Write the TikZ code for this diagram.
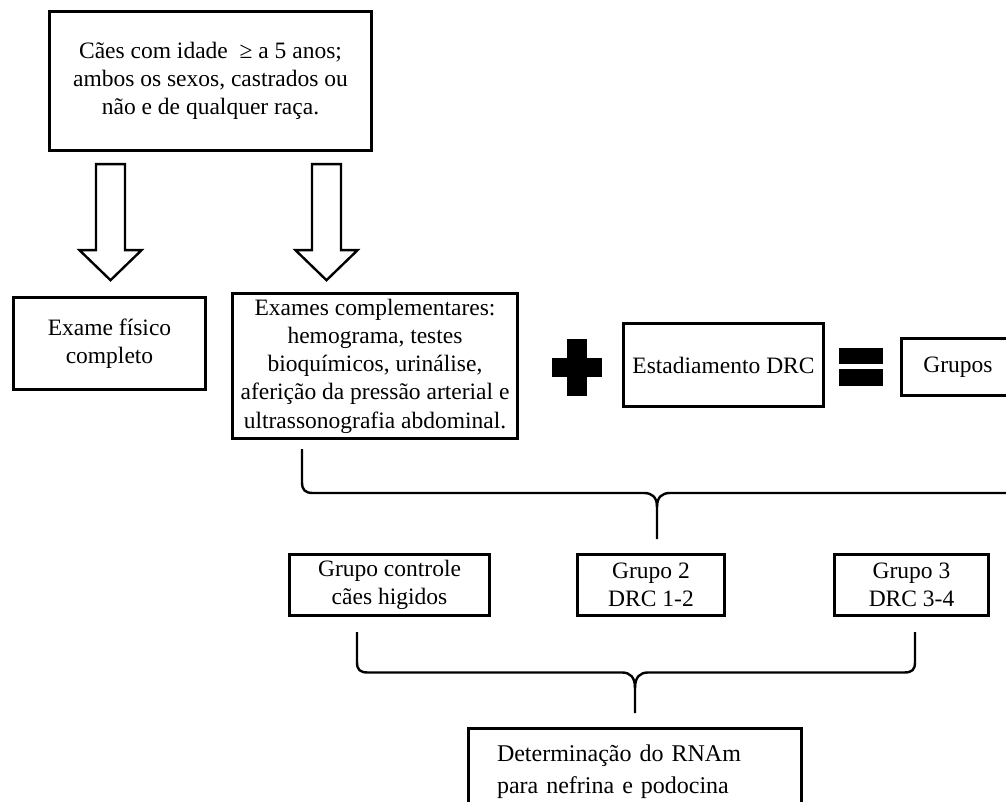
\documentclass[tikz,border=0pt]{standalone}
\usepackage{fontspec}
\setmainfont{Liberation Serif}
\begin{document}
\begin{tikzpicture}[x=1pt,y=-1pt,
  box/.style={draw, line width=2.6pt, align=center, inner sep=0pt,
    font=\fontsize{23.5}{28.5}\selectfont},
  brace/.style={line width=2.4pt, line cap=butt, line join=round},
  blockarrow/.pic={\draw[line width=2.4pt, line join=miter]
    (-14.5,0) -- (14.5,0) -- (14.5,86) -- (31,86) -- (0,116) -- (-31,86) -- (-14.5,86) -- cycle;}
]
\useasboundingbox (0,0) rectangle (1006,802);
\clip (0,0) rectangle (1006,802);

% boxes
\node[box, minimum width=322.4pt, minimum height=139.4pt, font=\fontsize{23.5}{28}\selectfont] (top) at (210.5,81)
  {Cães com idade\ \ ≥ a 5 anos;\\ambos os sexos, castrados ou\\não e de qualquer raça.};
\node[box, minimum width=192.4pt, minimum height=92.4pt] (fisico) at (109.5,343.5)
  {Exame físico\\completo};
\node[box, minimum width=285.4pt, minimum height=145.4pt, font=\fontsize{23.5}{28.3}\selectfont] (compl) at (375,366)
  {Exames complementares:\\hemograma, testes\\bioquímicos, urinálise,\\aferição da pressão arterial e\\ultrassonografia abdominal.};
\node[box, minimum width=200.4pt, minimum height=83.4pt] (estad) at (723.5,365)
  {Estadiamento DRC};
\node[box, minimum width=113.4pt, minimum height=57.4pt] (grupos) at (958,367)
  {Grupos};
\node[box, minimum width=200.4pt, minimum height=61.4pt, font=\fontsize{23.5}{28}\selectfont] (g1) at (389.5,585)
  {Grupo controle\\cães higidos};
\node[box, minimum width=147.4pt, minimum height=61.4pt, font=\fontsize{23.5}{28}\selectfont] (g2) at (651,585)
  {Grupo 2\\DRC 1-2};
\node[box, minimum width=154.4pt, minimum height=61.4pt, font=\fontsize{23.5}{28}\selectfont] (g3) at (911.5,585)
  {Grupo 3\\DRC 3-4};
\node[draw, line width=2.6pt, anchor=north, minimum width=333.4pt, minimum height=85.4pt,
  inner xsep=28.7pt, inner ysep=0pt, text width=276pt, align=left,
  font=\fontsize{24}{32}\selectfont] (rna) at (635,727.3)
  {Determinação do RNAm\\para nefrina e podocina};

% block arrows
\pic at (110.5,164.2) {blockarrow};
\pic at (326.5,164.2) {blockarrow};

% plus and equals
\fill (567,339) rectangle (587,396);
\fill (552,358) rectangle (602,377);
\fill (839,348) rectangle (883,364);
\fill (839,369) rectangle (883,386);

% brace 1
\coordinate (b1L) at (302,449);
\coordinate (b1R) at (1012,493);
\coordinate (b1T) at (657,539);
\draw[brace] (b1L) -- (302,482) .. controls (302,490) and (305,493) .. (313,493)
  -- (644,493) .. controls (652,493) and (657,497) .. (657,507) -- (b1T);
\draw[brace] (b1R) -- (670,493) .. controls (662,493) and (657,497) .. (657,507);

% brace 2
\coordinate (b2L) at (357,632);
\coordinate (b2R) at (915,632);
\coordinate (b2T) at (635,713);
\draw[brace] (b2L) -- (357,662) .. controls (357,670) and (360,672.5) .. (368,672.5)
  -- (622,672.5) .. controls (630,672.5) and (635,677) .. (635,688) -- (b2T);
\draw[brace] (b2R) -- (915,662) .. controls (915,670) and (912,672.5) .. (904,672.5)
  -- (648,672.5) .. controls (640,672.5) and (635,677) .. (635,688);
\end{tikzpicture}
\end{document}
